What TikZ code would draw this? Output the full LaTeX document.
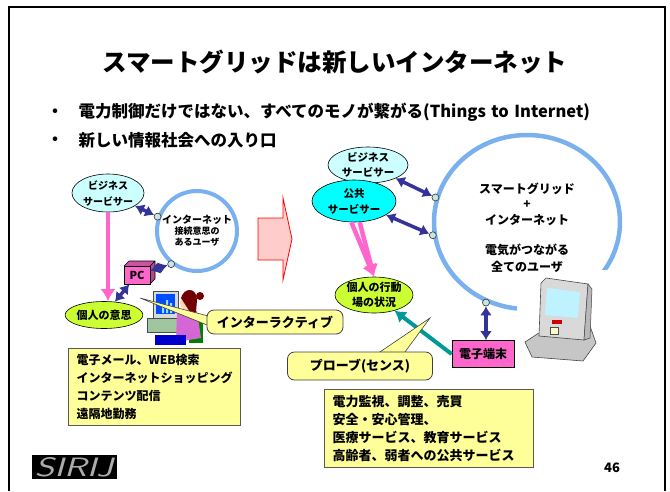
\documentclass[tikz,border=0pt]{standalone}
\usepackage{fontspec}
\setmainfont{Noto Sans CJK JP}
\usetikzlibrary{shapes.geometric,arrows.meta,calc}
\definecolor{skyring}{RGB}{122, 176, 238}
\definecolor{navyarrow}{RGB}{51, 51, 153}
\definecolor{pinkarrow}{RGB}{255, 102, 204}
\definecolor{bizfill}{RGB}{204, 255, 255}
\definecolor{pubfill}{RGB}{0, 255, 255}
\definecolor{limefill}{RGB}{204, 255, 51}
\definecolor{boxpink}{RGB}{255, 102, 204}
\definecolor{notefill}{RGB}{255, 255, 153}
\definecolor{tealarrow}{RGB}{0, 153, 153}
\definecolor{blockpink}{RGB}{255, 204, 204}
\definecolor{portfill}{RGB}{200, 228, 228}

\tikzset{
  jp/.style={font=\bfseries\fontsize{#1}{#1}\selectfont},
  jpl/.style 2 args={font=\bfseries\fontsize{#1}{#2}\selectfont},
  servicer/.style={ellipse, draw=black, line width=0.6pt, inner sep=0pt, align=center},
  mind/.style={ellipse, draw=black, fill=limefill, line width=0.6pt, inner sep=0pt, align=center},
  port/.style={circle, draw=black!80, fill=portfill, line width=0.6pt, minimum size=7pt, inner sep=0pt},
  navyarr/.style={{Latex[length=9pt,width=12pt]}-{Latex[length=9pt,width=12pt]}, line width=3.5pt, draw=navyarrow},
  pinkarr/.style={-{Latex[length=12pt,width=15pt]}, line width=4.5pt, draw=pinkarrow},
  tealarr/.style={-{Latex[length=11pt,width=14pt]}, line width=4pt, draw=tealarrow},
  notebox/.style={draw=black!65, line width=1.2pt, fill=notefill, align=left, anchor=north west, inner xsep=8pt, inner ysep=0pt},
  callbox/.style={rounded corners=7pt, draw=black!75, line width=0.8pt, fill=notefill, inner sep=0pt},
  termbox/.style={draw=black, line width=0.8pt, fill=boxpink, inner sep=0pt}
}

\begin{document}
\begin{tikzpicture}[x=1pt,y=-1pt]
\useasboundingbox (0,0) rectangle (670,491);
% slide frame
\draw[line width=1.5pt] (9,491) -- (9,7) -- (665,7) -- (665,491);

\node[jp=24.5] (title) at (335,62) {スマートグリッドは新しいインターネット};
\node[jp=16.5, anchor=center] (dot1) at (55,113) {・};
\node[jp=16.5, anchor=west] (item1) at (75,112) {電力制御だけではない、すべてのモノが繋がる(Things\,\,to\,\,Internet)};
\node[jp=16.5, anchor=center] (dot2) at (55,141) {・};
\node[jp=16.5, anchor=west] (item2) at (75,140) {新しい情報社会への入り口};

% left: today's internet
\node[servicer, fill=bizfill, minimum width=72, minimum height=38, jpl={10}{16}] (bizL) at (108,193) {ビジネス\\サービサー};
\node[circle, draw=skyring, line width=4pt, minimum size=80, inner sep=0pt, align=center] (userL) at (197,231)
  {{\bfseries\fontsize{10}{12}\selectfont インターネット}\\[-1pt]{\bfseries\fontsize{9}{11}\selectfont 接続意思の}\\[-1pt]{\bfseries\fontsize{9}{11}\selectfont あるユーザ}};
\node[port] (dotA) at (userL.160) {};
\node[port] (dotB) at (userL.232) {};
\node[mind, minimum width=60, minimum height=27, jp=11] (willL) at (104,315) {個人の意思};

% PC box
\fill[boxpink!80!black] (124,266) -- (129,261) -- (155,261) -- (150,266) -- cycle;
\fill[boxpink!70!black] (150,266) -- (155,261) -- (155,279) -- (150,284) -- cycle;
\draw[black, line width=0.6pt] (124,266) -- (129,261) -- (155,261) -- (155,279) -- (150,284) (150,266) -- (155,261);
\node[termbox, minimum width=26, minimum height=18, jp=11] (pc) at (137,275) {PC};

\draw[pinkarr] (bizL.south) -- (bizL.south |- willL.north);
\draw[navyarr] (bizL) -- (dotA);
\draw[navyarr] (pc) -- (dotB);
\draw[navyarr] (pc) -- (willL);

% user at the desk
\fill[gray!30, draw=gray!60!black, line width=0.5pt] (153,291) rectangle (178,318);
\fill[blue!70!cyan] (156,294) rectangle (175,314);
\fill[cyan!40] (162,305) rectangle (164,313) (166,300) rectangle (168,313) (170,303) rectangle (172,313);
\fill[green!25!gray!60, draw=gray!60!black, line width=0.4pt] (147,318) rectangle (182,332);
\fill[green!50!black] (189,318) rectangle (203,343);
\fill[violet!55!magenta!60] (177,312) -- (197,311) -- (201,338) -- (176,342) -- cycle;
\fill[blue!80!black] (155,335) rectangle (186,345);
\fill[orange!30!white] (187,303) circle (7);
\fill[red!45!black] (181,298) .. controls (184,287) and (197,287) .. (197,300) -- (196,312) -- (190,312) -- cycle;
\fill[red!45!black] (200,296) circle (4);

% interactive callout
\coordinate (iaTip) at (140,298);
\filldraw[fill=notefill, draw=black!75, line width=0.6pt] (iaTip) -- (212,317) -- (212,327) -- cycle;
\node[callbox, minimum width=136, minimum height=24, jp=13] (callIA) at (275,322) {インターラクティブ};

% big arrow to the right
\filldraw[fill=blockpink, draw=red, line width=0.8pt] (258,218) -- (283,218) -- (283,198) -- (292,239) -- (283,280) -- (283,260) -- (258,260) -- cycle;

% right: smart grid + internet
\node[draw=skyring, line width=4.5pt, ellipse, minimum width=186, minimum height=174, inner sep=0pt] (ring) at (527,222) {};
\node[port] (dotC) at (ring.165) {};
\node[port] (dotD) at (ring.188) {};
\node[port] (dotE) at (ring.243) {};

\node[servicer, fill=bizfill, minimum width=80, minimum height=36, jpl={10.5}{15}] (bizR) at (368,165) {ビジネス\\サービサー};
\node[servicer, fill=pubfill, minimum width=84, minimum height=42, jpl={10.5}{16}] (pubR) at (354,201) {公共\\サービサー};
\node[mind, minimum width=78, minimum height=36, jpl={11}{14.5}] (actR) at (374,295) {個人の行動\\場の状況};

\draw[pinkarr] (pubR.-97) -- (actR.north);
\draw[pinkarr] (pubR.-75) -- (actR.north);
\draw[navyarr] (bizR) -- (dotC);
\draw[navyarr] (pubR) -- (dotD);

% terminal device picture
\fill[white] (517,270) rectangle (615,395);
\filldraw[fill=gray!45, draw=gray!55!black, line width=0.6pt] (525,342) -- (532,357) -- (583,361) -- (596,343) -- (590,326) -- (548,327) -- cycle;
\filldraw[fill=gray!30, draw=gray!55!black, line width=0.6pt] (541,283) -- (546,278) -- (588,284) -- (584,340) -- (539,336) -- cycle;
\filldraw[fill=gray!55, draw=gray!55!black, line width=0.5pt] (584,340) -- (588,284) -- (592,289) -- (590,338) -- cycle;
\fill[blue!20!cyan!25] (547,288) -- (580,292) -- (578,318) -- (545,315) -- cycle;
\fill[red!80!black] (552,320) rectangle (562,324);
\filldraw[fill=yellow!20, draw=gray!60!black, line width=0.4pt] (550,327) rectangle (558,334);

\node[jpl={12}{15.5}, align=center] (ringTop) at (527,204) {スマートグリッド\\+\\インターネット};
\node[jpl={12}{17}, align=center] (ringBot) at (527,258) {電気がつながる\\全てのユーザ};

\node[termbox, minimum width=62, minimum height=27, jp=12] (term) at (483,354) {電子端末};
\draw[navyarr] (term.north -| dotE) -- (dotE);
\draw[tealarr] (term.west) -- (actR);

% probe callout
\coordinate (prTip) at (430,318);
\filldraw[fill=notefill, draw=black!75, line width=0.6pt] (prTip) -- (374,356) -- (402,356) -- cycle;
\node[callbox, minimum width=145, minimum height=28, jp=13] (callPR) at (360,366) {プローブ(センス)};

% service lists
\node[notebox, minimum width=172, minimum height=77, text width=156, jpl={12}{18}] (listL) at (68,348)
  {電子メール、WEB検索\\インターネットショッピング\\コンテンツ配信\\遠隔地勤務};
\node[notebox, minimum width=209, minimum height=78, text width=193, jpl={13}{18}] (listR) at (324,389)
  {電力監視、調整、売買\\安全・安心管理、\\医療サービス、教育サービス\\高齢者、弱者への公共サービス};

% footer
\node[fill=black, minimum width=85, minimum height=24, inner sep=0pt, text=gray!65] (logo) at (74,467)
  {\resizebox{78pt}{19pt}{\sffamily\itshape SIRIJ}};
\node[jp=13] (page) at (612,468) {46};
\end{tikzpicture}
\end{document}
